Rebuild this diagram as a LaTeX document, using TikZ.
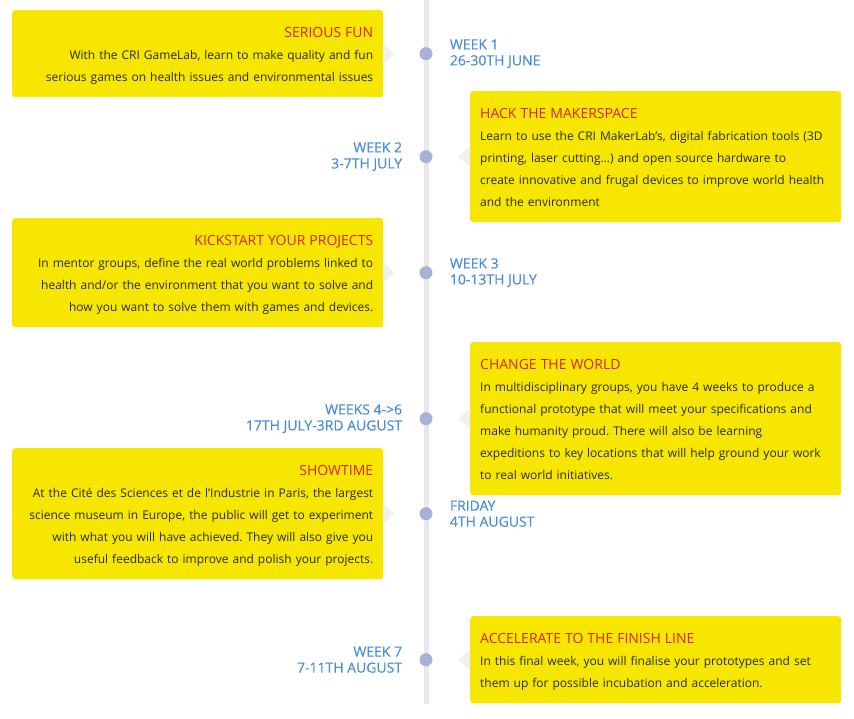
\documentclass[tikz,border=0pt]{standalone}
\usepackage{fontspec}
\setmainfont{Open Sans}
\newfontfamily\datefont{Open Sans}[FakeBold=0.3]
\usetikzlibrary{positioning}
\frenchspacing

\definecolor{boxyellow}{HTML}{F7E700}
\definecolor{titlered}{HTML}{D7232B}
\definecolor{datablue}{HTML}{4A8DDA}
\definecolor{dotblue}{HTML}{A7B2D9}
\definecolor{linegrey}{HTML}{E9E9EC}
\definecolor{tipgrey}{HTML}{F0F0F0}
\definecolor{bodygrey}{HTML}{2A2A2A}

\newcommand{\evtop}{\rule{0pt}{27pt}}
\newcommand{\evbot}{\rule[-16pt]{0pt}{16pt}}
\newcommand{\evtitle}[1]{{\fontsize{14}{22}\selectfont\color{titlered}#1}}

\tikzset{
  event/.style={fill=boxyellow, rounded corners=3pt, anchor=north west,
    inner xsep=10pt, inner ysep=0pt, text width=351pt, text=bodygrey,
    font=\fontsize{12}{22}\selectfont},
  leftevent/.style={event, align=right},
  rightevent/.style={event, align=left},
  dot/.style={circle, fill=dotblue, minimum size=13pt, inner sep=0pt},
  date/.style={text=datablue, inner sep=0pt, font=\datefont\fontsize{14}{16}\selectfont}
}

\begin{document}
\begin{tikzpicture}[x=1pt, y=-1pt]
  \useasboundingbox (0,0) rectangle (854,719);

  \coordinate (top) at (426,0);
  \coordinate (bottom) at (426,704);

  % Timeline
  \draw [linegrey, line width=5pt] (top) -- (bottom);

  % Event boxes
  \node [leftevent] (E1) at (12,10) {\evtop\evtitle{SERIOUS FUN}\\
    With the CRI GameLab, learn to make quality and fun\\
    serious games on health issues and environmental issues\evbot};
  \node [rightevent] (E2) at (470,91) {\evtop\evtitle{HACK THE MAKERSPACE}\\
    Learn to use the CRI MakerLab’s, digital fabrication tools (3D\\
    printing, laser cutting…) and open source hardware to\\
    create innovative and frugal devices to improve world health\\
    and the environment\evbot};
  \node [leftevent] (E3) at (12,218) {\evtop\evtitle{KICKSTART YOUR PROJECTS}\\
    In mentor groups, define the real world problems linked to\\
    health and/or the environment that you want to solve and\\
    how you want to solve them with games and devices.\evbot};
  \node [rightevent] (E4) at (470,342) {\evtop\evtitle{CHANGE THE WORLD}\\
    In multidisciplinary groups, you have 4 weeks to produce a\\
    functional prototype that will meet your specifications and\\
    make humanity proud. There will also be learning\\
    expeditions to key locations that will help ground your work\\
    to real world initiatives.\evbot};
  \node [leftevent] (E5) at (12,448) {\evtop\evtitle{SHOWTIME}\\
    At the Cité des Sciences et de l’Industrie in Paris, the largest\\
    science museum in Europe, the public will get to experiment\\
    with what you will have achieved. They will also give you\\
    useful feedback to improve and polish your projects.\evbot};
  \node [rightevent] (E6) at (470,616) {\evtop\evtitle{ACCELERATE TO THE FINISH LINE}\\
    In this final week, you will finalise your prototypes and set\\
    them up for possible incubation and acceleration.\evbot};

  % Pointers towards the timeline
  \foreach \e in {E1,E3,E5}
    \fill [tipgrey] ([yshift=10pt]\e.east) -- ([xshift=11pt]\e.east) -- ([yshift=-10pt]\e.east) -- cycle;
  \foreach \e in {E2,E4,E6}
    \fill [tipgrey] ([yshift=10pt]\e.west) -- ([xshift=-12pt]\e.west) -- ([yshift=-10pt]\e.west) -- cycle;

  % Dots on the timeline
  \foreach \i in {1,...,6}
    \node [dot] (D\i) at (E\i.east -| top) {};

  % Dates
  \node [date, align=left, right=17pt of D1] (W1) {WEEK 1\\26-30TH JUNE};
  \node [date, align=right, left=17pt of D2] (W2) {WEEK 2\\3-7TH JULY};
  \node [date, align=left, right=17pt of D3] (W3) {WEEK 3\\10-13TH JULY};
  \node [date, align=right, left=17pt of D4] (W4) {WEEKS 4->6\\17TH JULY-3RD AUGUST};
  \node [date, align=left, right=17pt of D5] (W5) {FRIDAY\\4TH AUGUST};
  \node [date, align=right, left=17pt of D6] (W6) {WEEK 7\\7-11TH AUGUST};

\end{tikzpicture}
\end{document}
